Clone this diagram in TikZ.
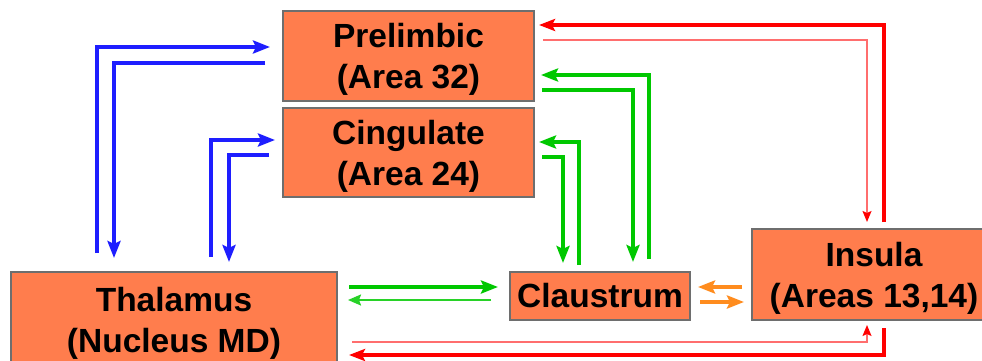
\documentclass[tikz,border=0pt]{standalone}
\usepackage{fontspec}
\setmainfont{Liberation Sans}
\usetikzlibrary{arrows.meta,calc}

\definecolor{boxfill}{RGB}{255,125,77}
\definecolor{boxedge}{RGB}{110,110,110}
\definecolor{lineblue}{RGB}{30,30,255}
\definecolor{linegreen}{RGB}{0,200,0}
\definecolor{lightgreen}{RGB}{40,210,40}
\definecolor{linered}{RGB}{255,0,0}
\definecolor{lightred}{RGB}{255,110,110}
\definecolor{lineorange}{RGB}{255,140,30}

% invisible strut that lowers a two-line label a little inside its box
\newcommand{\toppad}{\rule{0pt}{31pt}}

\tikzset{
  region/.style={draw=boxedge, line width=1.5pt, fill=boxfill, inner sep=0pt,
    outer sep=0pt, align=center,
    font=\fontsize{33.5}{41}\selectfont\bfseries},
  bigtip/.style={-{Stealth[length=17pt,width=13pt,inset=3pt]}},
  bluethick/.style={draw=lineblue, line width=4pt, line join=miter, bigtip},
  greenthick/.style={draw=linegreen, line width=4pt, line join=miter, bigtip},
  greenthin/.style={draw=lightgreen, line width=2pt,
    -{Stealth[length=13pt,width=11pt,inset=2pt]}},
  redthick/.style={draw=linered, line width=4.5pt, line join=miter,
    -{Stealth[length=16pt,width=12pt,inset=3pt]}},
  redthin/.style={draw=lightred, line width=1.3pt, line join=miter,
    -{Stealth[length=11pt,width=9pt,inset=2pt,color=linered]}},
  orangearr/.style={draw=lineorange, line width=4pt,
    -{Stealth[length=17pt,width=13pt,inset=3pt]}},
}

\begin{document}
\begin{tikzpicture}[x=1pt,y=-1pt]
  \useasboundingbox (0,0) rectangle (982,361);
  \clip (0,0) rectangle (982,361);
  \fill[white] (0,0) rectangle (982,361);

  % brain regions
  \node[region, minimum width=251pt, minimum height=90pt] (pre) at (408.5,56) {\toppad Prelimbic\\(Area 32)};
  \node[region, minimum width=251pt, minimum height=89pt] (cing) at (408.5,152.5) {\toppad Cingulate\\(Area 24)};
  \node[region, minimum width=326pt, minimum height=96pt] (thal) at (174,320) {\toppad Thalamus\\(Nucleus MD)};
  \node[region, minimum width=180pt, minimum height=48pt] (claus) at (600,296) {Claustrum};
  \node[region, minimum width=244pt, minimum height=91pt] (ins) at (874,274.5) {\toppad Insula\\(Areas 13,14)};

  % thalamo-cortical loops
  \draw[bluethick] ($(thal.north west)+(86,-19)$) |- ($(pre.west)+(-13,-9)$);
  \draw[bluethick] ($(pre.west)+(-18,7)$) -| ($(thal.north west)+(103,-14)$);
  \draw[bluethick] ($(thal.north west)+(200,-15)$) |- ($(cing.west)+(-8,-12.5)$);
  \draw[bluethick] ($(cing.west)+(-14,2.5)$) -| ($(thal.north west)+(218,-10)$);

  % claustrum connections
  \draw[greenthick] ($(claus.north)+(49,-13)$) |- ($(pre.east)+(7,19)$);
  \draw[greenthick] ($(pre.east)+(8,34)$) -| ($(claus.north)+(33,-10)$);
  \draw[greenthick] ($(claus.north)+(-21,-7)$) |- ($(cing.east)+(5,-10.5)$);
  \draw[greenthick] ($(cing.east)+(8,4.5)$) -| ($(claus.north)+(-37,-9)$);
  \draw[greenthick] ($(thal.east)+(12,-33)$) -- ($(claus.west)+(-12,-9)$);
  \draw[greenthin] ($(claus.west)+(-19,4)$) -- ($(thal.east)+(11,-20)$);

  % claustrum <-> insula
  \draw[orangearr] ($(ins.west)+(-10,12.5)$) -- ($(claus.east)+(8,-9)$);
  \draw[orangearr] ($(claus.east)+(10,6)$) -- ($(ins.west)+(-8,27.5)$);

  % insula connections
  \draw[redthick] ($(ins.north)+(10,-7)$) |- ($(pre.east)+(5,-31)$);
  \draw[redthin] ($(pre.east)+(9,-16)$) -| ($(ins.north)+(-7,-7)$);
  \draw[redthick] ($(ins.south)+(10,8)$) |- ($(thal.east)+(12,35)$);
  \draw[redthin] ($(thal.east)+(15,22)$) -| ($(ins.south)+(-7,5)$);
\end{tikzpicture}
\end{document}
